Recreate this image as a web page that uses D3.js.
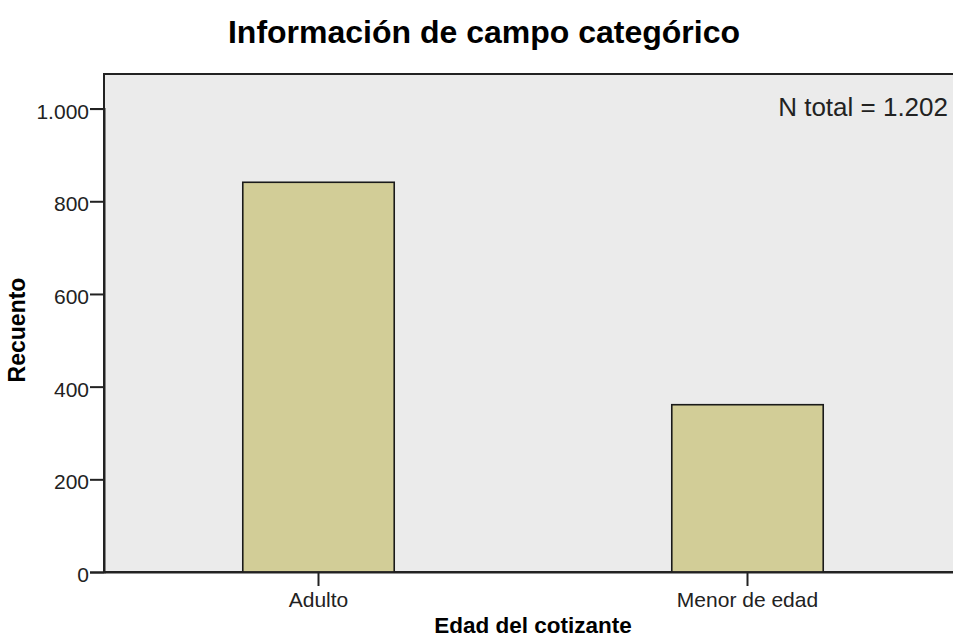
<!DOCTYPE html>
<html>
<head>
<meta charset="utf-8">
<script src="https://cdn.jsdelivr.net/npm/d3@7"></script>
<style>
  body { margin: 0; background: #fff; }
  text { font-family: "Liberation Sans", Arial, sans-serif; }
</style>
</head>
<body>
<div id="chart"></div>
<script>
var categories = ["Adulto", "Menor de edad"];
var counts = [841, 361];
var yTicks = [0, 200, 400, 600, 800, 1000];
var yTickLabels = ["0", "200", "400", "600", "800", "1.000"];

var width = 953;
var height = 638;
var margin = {top: 74, right: -9, bottom: 66, left: 104};

var svg = d3.select("#chart")
    .append("svg")
        .attr("width", width)
        .attr("height", height);

var x = d3.scaleBand()
    .domain(categories)
    .range([margin.left, width - margin.right]);

var y = d3.scaleLinear()
    .domain([0, 1000])
    .range([height - margin.bottom, height - margin.bottom - 463.4]);

var plotTop = margin.top;
var plotBottom = height - margin.bottom;

// plot background
svg.append("rect")
    .attr("x", margin.left)
    .attr("y", plotTop)
    .attr("width", x.range()[1] - margin.left)
    .attr("height", plotBottom - plotTop)
    .attr("fill", "#ebebeb")
    .attr("stroke", "#222")
    .attr("stroke-width", 2);

// bars
var barW = x.bandwidth() * 0.353;
svg.selectAll("rect.bar")
    .data(categories)
    .enter()
        .append("rect")
            .attr("class", "bar")
            .attr("x", function (d) { return x(d) + x.bandwidth() / 2 - barW / 2; })
            .attr("y", function (d, i) { return y(counts[i]); })
            .attr("width", barW)
            .attr("height", function (d, i) { return y(0) - y(counts[i]); })
            .attr("fill", "#d2cd97")
            .attr("stroke", "#1a1a1a")
            .attr("stroke-width", 1.6);

// y axis
var yAxis = d3.axisLeft(y)
    .tickValues(yTicks)
    .tickFormat(function (d, i) { return yTickLabels[i]; })
    .tickSize(14)
    .tickPadding(1);

var gy = svg.append("g")
    .attr("transform", "translate(" + margin.left + ",0)")
    .call(yAxis);
gy.select(".domain").attr("stroke", "#222").attr("stroke-width", 2);
gy.selectAll(".tick line").attr("stroke", "#222").attr("stroke-width", 2);
gy.selectAll(".tick text")
    .attr("fill", "#222")
    .attr("dy", "0.45em")
    .style("font-size", "21px");

// x axis
var xAxis = d3.axisBottom(x).tickSize(14).tickPadding(6).tickSizeOuter(0);
var gx = svg.append("g")
    .attr("transform", "translate(0," + plotBottom + ")")
    .call(xAxis);
gx.select(".domain").attr("stroke", "#222").attr("stroke-width", 2);
gx.selectAll(".tick line").attr("stroke", "#222").attr("stroke-width", 2);
gx.selectAll(".tick text")
    .attr("fill", "#222")
    .style("font-size", "21px");

// title
svg.append("text")
    .attr("x", 484)
    .attr("y", 43)
    .attr("text-anchor", "middle")
    .style("font-size", "32px")
    .style("font-weight", "bold")
    .attr("fill", "#000")
    .text("Información de campo categórico");

// N total
svg.append("text")
    .attr("x", 948)
    .attr("y", 116)
    .attr("text-anchor", "end")
    .style("font-size", "26px")
    .attr("fill", "#222")
    .text("N total = " + d3.format(",")(d3.sum(counts)).replace(/,/g, "."));

// axis titles
svg.append("text")
    .attr("x", 533)
    .attr("y", 633)
    .attr("text-anchor", "middle")
    .style("font-size", "22.5px")
    .style("font-weight", "bold")
    .attr("fill", "#000")
    .text("Edad del cotizante");

svg.append("text")
    .attr("transform", "translate(25,330) rotate(-90)")
    .attr("text-anchor", "middle")
    .style("font-size", "23px")
    .style("font-weight", "bold")
    .attr("fill", "#000")
    .text("Recuento");
</script>
</body>
</html>
